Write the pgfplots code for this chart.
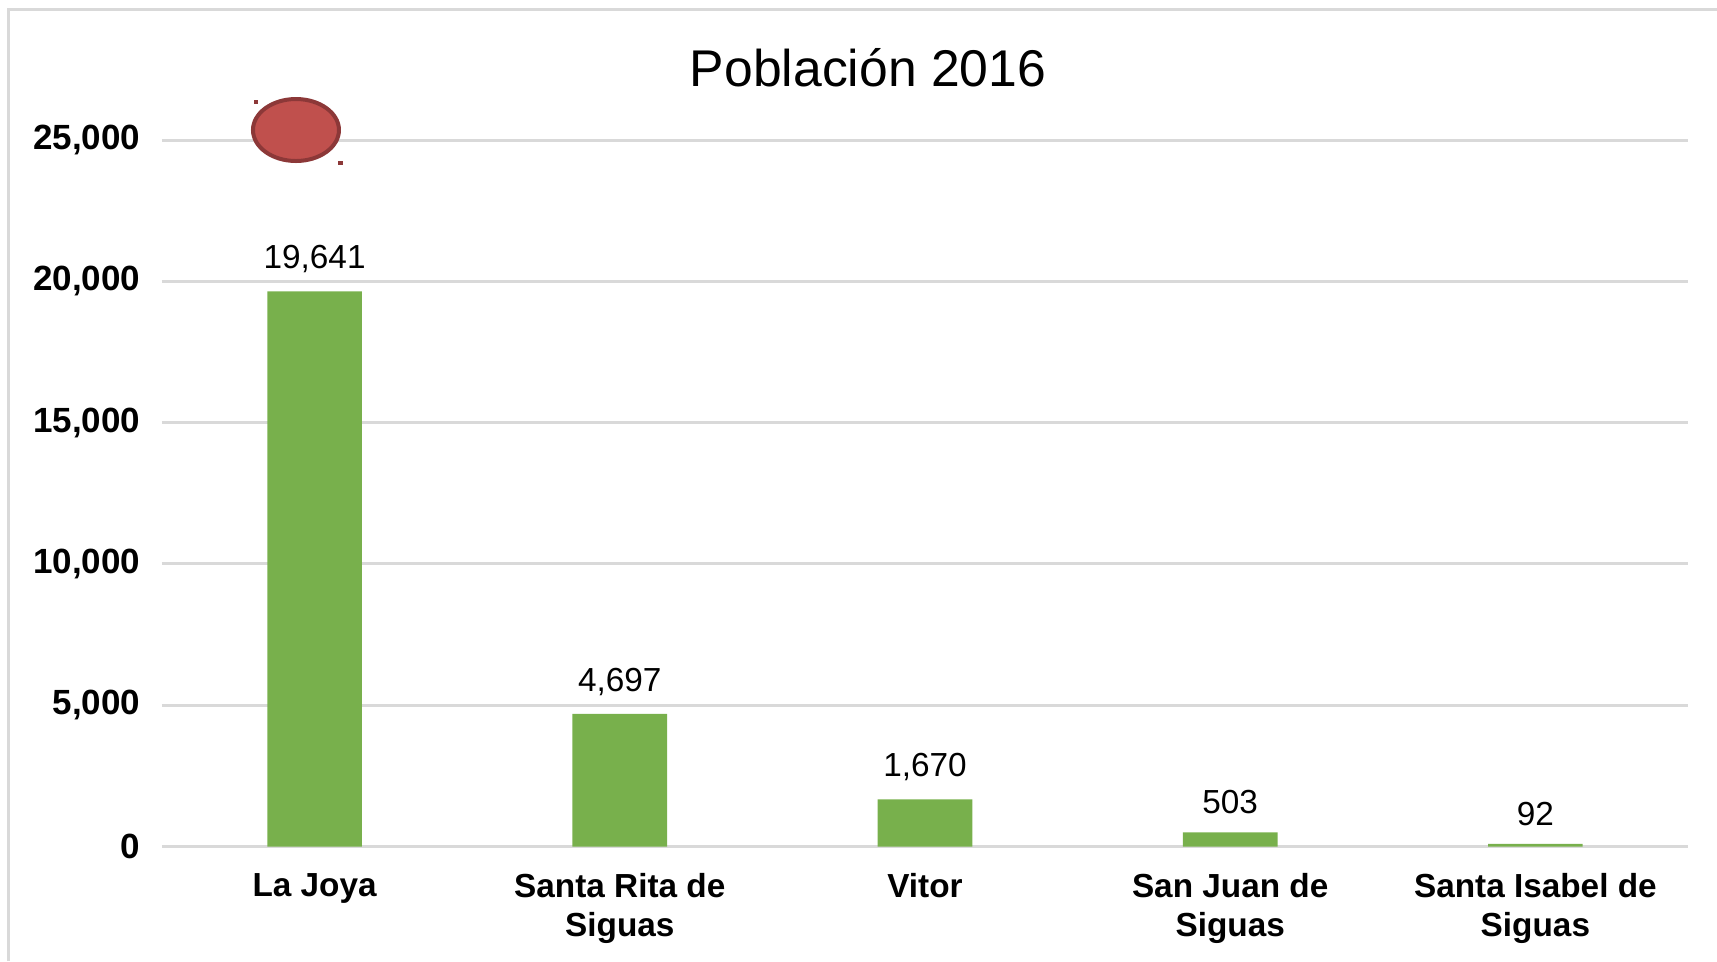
\documentclass[border=0pt]{standalone}
\usepackage{pgfplots}
\pgfplotsset{compat=1.18}
\usepackage{fontspec}
\setmainfont{Liberation Sans}
\definecolor{bargreen}{RGB}{120,176,76}
\definecolor{gridgray}{RGB}{217,217,217}
\definecolor{redfill}{RGB}{192,80,77}
\definecolor{reddark}{RGB}{140,56,56}
\begin{document}
\begin{tikzpicture}[x=0.3pt,y=0.3pt]
\useasboundingbox (0,0) rectangle (1717,961);
\draw[line width=0.9pt, gridgray] (8.5,0) -- (8.5,952) -- (1717,952);
\node[font=\fontsize{15.5}{18}\selectfont] at (868,893) {Población 2016};
\begin{axis}[
  at={(48.6pt,34.35pt)}, anchor=south west,
  scale only axis, width=457.8pt, height=211.95pt,
  ybar, bar width=28.4pt,
  xmin=-0.5, xmax=4.5, ymin=0, ymax=25000,
  xtick={0,1,2,3,4},
  xticklabels={La Joya, {Santa Rita de\\Siguas}, Vitor, {San Juan de\\Siguas}, {Santa Isabel de\\Siguas}},
  xticklabel style={align=center, font=\bfseries\fontsize{10}{11.8}\selectfont, yshift=-4.5pt},
  ytick={0,5000,10000,15000,20000,25000},
  scaled y ticks=false,
  yticklabel style={font=\bfseries\fontsize{10.5}{12.5}\selectfont, xshift=-3pt, /pgf/number format/fixed, /pgf/number format/precision=0},
  /pgf/number format/1000 sep={,},
  /pgf/number format/assume math mode=true,
  ymajorgrids, grid style={gridgray, line width=0.9pt},
  axis line style={draw=none},
  major tick length=0pt,
  clip=false,
  nodes near coords,
  nodes near coords style={font=\fontsize{10}{12}\selectfont, /pgf/number format/1000 sep={,}, /pgf/number format/assume math mode=true, yshift=2pt},
]
\addplot[fill=bargreen, draw=none] coordinates {(0,19641) (1,4697) (2,1670) (3,503) (4,92)};
\draw[fill=redfill, draw=reddark, line width=1.2pt] (axis cs:-0.061,25354) ellipse [x radius=12.9pt, y radius=9.3pt];
\fill[reddark] (axis cs:-0.199,26426) rectangle ++(1.3pt,-1.3pt);
\fill[reddark] (axis cs:0.078,24257) rectangle ++(1.3pt,-1.3pt);
\end{axis}
\end{tikzpicture}
\end{document}
